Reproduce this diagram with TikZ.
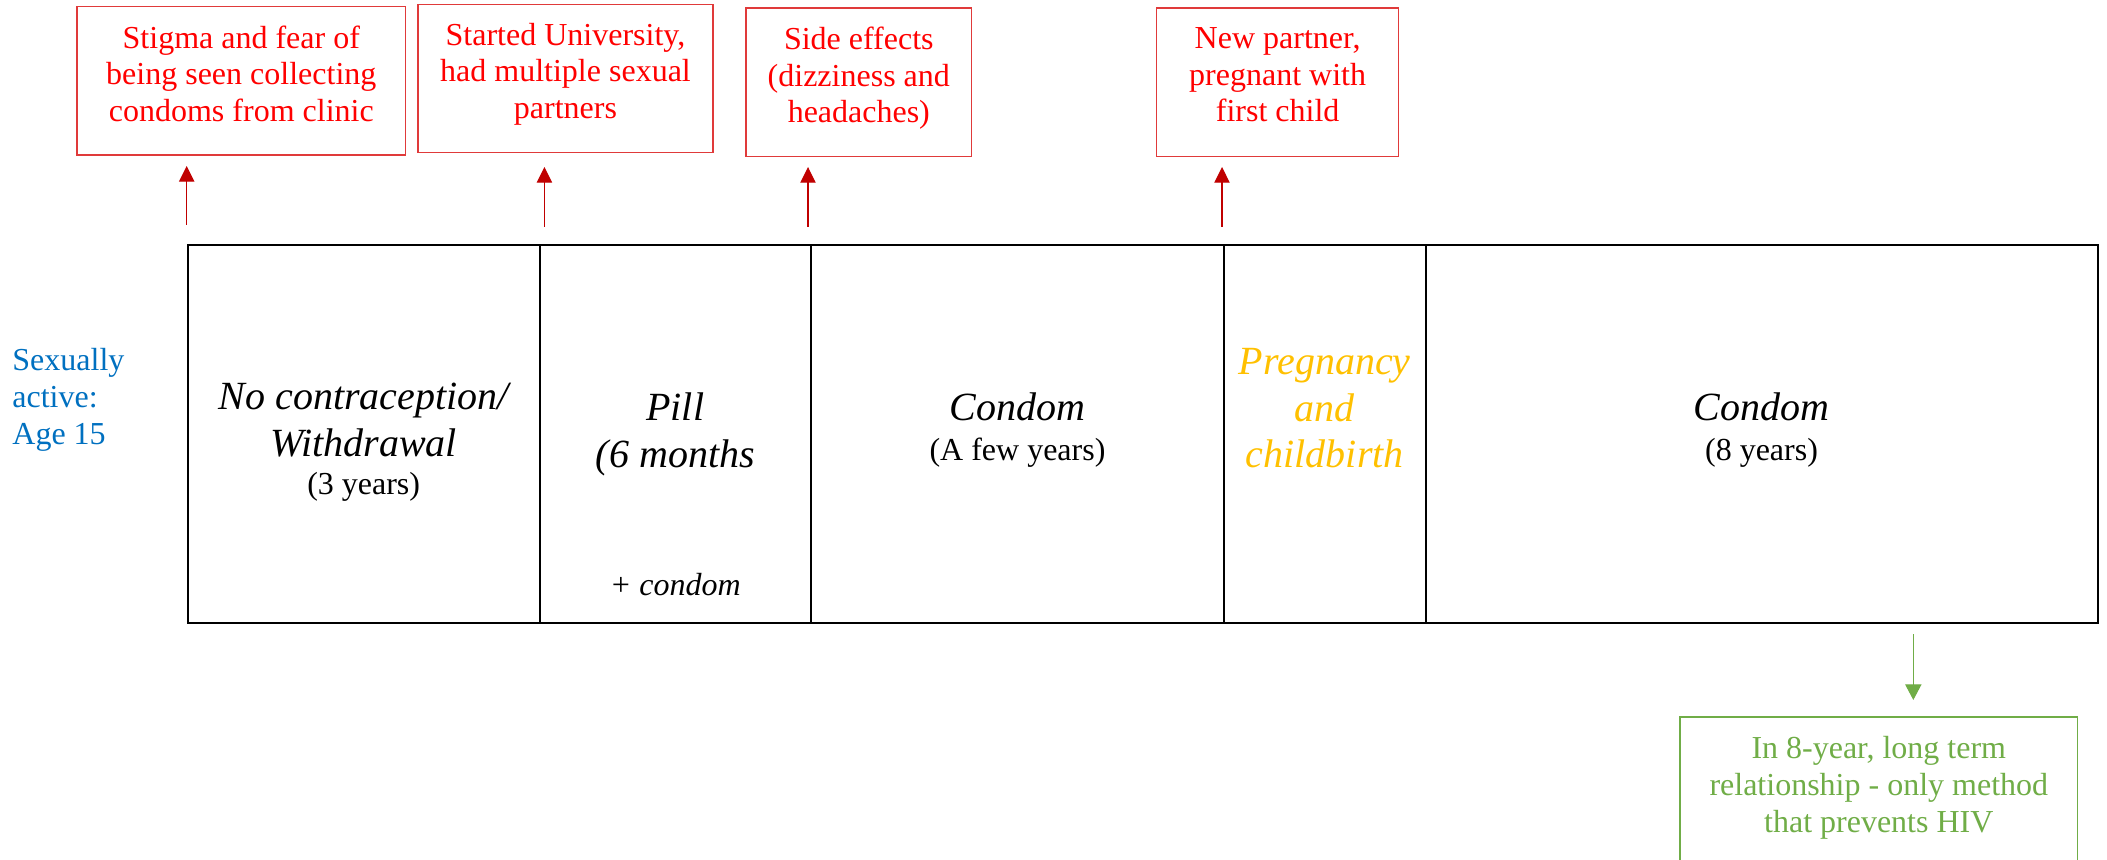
\documentclass[tikz,border=0pt]{standalone}
\usepackage{fontspec}
\setmainfont{Liberation Serif}
\usetikzlibrary{arrows.meta}

\definecolor{notered}{HTML}{FF0000}
\definecolor{noteframe}{HTML}{E03A3A}
\definecolor{arrowred}{HTML}{C00000}
\definecolor{hivgreen}{HTML}{70AD47}
\definecolor{startblue}{HTML}{0070C0}
\definecolor{pregold}{HTML}{FFC000}

\newcommand{\smallsz}{\fontsize{16}{18.35}\selectfont}
\newcommand{\bigsz}{\fontsize{20}{23.35}\selectfont}

\tikzset{
  cellbox/.style={draw=black, line width=1pt, minimum height=188.85pt,
    inner sep=0pt, outer sep=0pt, anchor=north west},
  notebox/.style={draw=noteframe, line width=0.65pt, minimum height=74.2pt,
    inner sep=0pt, outer sep=0pt, anchor=north west},
  notetext/.style={text=notered, font=\smallsz, align=center, inner sep=0pt, anchor=north},
  celltext/.style={font=\bigsz\itshape, align=center, inner sep=0pt, anchor=north},
  redarrow/.style={draw=arrowred, line width=0.65pt,
    -{Triangle[width=7.65pt, length=7.85pt]}},
  greenarrow/.style={draw=hivgreen, line width=0.65pt,
    -{Triangle[width=8.15pt, length=7.85pt]}},
}

\begin{document}
\begin{tikzpicture}[x=0.5pt, y=-0.5pt]
\clip (0,0) rectangle (2107,860);

% age at first sex
\node[text=startblue, font=\smallsz, align=left, inner sep=0pt, anchor=north west]
  (start) at (12,348.2) {Sexually\\active:\\Age 15};

% timeline cells
\node[cellbox, minimum width=175.75pt] (c1) at (188,245) {};
\node[cellbox, minimum width=135.75pt] (c2) at (c1.north east) {};
\node[cellbox, minimum width=206.5pt]  (c3) at (c2.north east) {};
\node[cellbox, minimum width=100.8pt]  (c4) at (c3.north east) {};
\node[cellbox, minimum width=335.95pt] (c5) at (c4.north east) {};

\node[celltext] (c1t) at (363.7,382.7)
  {No contraception/\\Withdrawal\\[-4.2pt]{\upshape\smallsz (3 years)}};
\node[celltext] (c2t) at (675.3,392.7) {Pill\\(6 months};
\node[font=\smallsz\itshape, inner sep=0pt, anchor=base] (c2b) at (675.3,595.7) {+ condom};
\node[celltext] (c3t) at (1017.5,392.7) {Condom\\[-3.35pt]{\upshape\smallsz (A few years)}};
\node[celltext, text=pregold] (c4t) at (1324.8,347.9) {Pregnancy\\and\\childbirth};
\node[celltext] (c5t) at (1761.5,392.7) {Condom\\[-3.35pt]{\upshape\smallsz (8 years)}};

% reasons for switching
\node[notebox, minimum width=164.25pt] (b1) at (77,6.7) {};
\node[notebox, minimum width=147.5pt]  (b2) at (418,4.3) {};
\node[notebox, minimum width=112.8pt]  (b3) at (746,8) {};
\node[notebox, minimum width=121.05pt] (b4) at (1156.5,8) {};

\node[notetext] (b1t) at (241.3,25.2) {Stigma and fear of\\being seen collecting\\condoms from clinic};
\node[notetext] (b2t) at (565.5,22.5) {Started University,\\had multiple sexual\\partners};
\node[notetext] (b3t) at (858.8,26.5) {Side effects\\(dizziness and\\headaches)};
\node[notetext] (b4t) at (1277.6,27.2) {New partner,\\pregnant with\\first child};

\coordinate (a1s) at (186.7,225);   \coordinate (a1e) at (186.7,166);
\coordinate (a2s) at (544.4,226.7); \coordinate (a2e) at (544.4,167);
\coordinate (a3s) at (808,226.7);   \coordinate (a3e) at (808,167);
\coordinate (a4s) at (1222,226.7);  \coordinate (a4e) at (1222,167);
\draw[redarrow] (a1s) -- (a1e);
\draw[redarrow] (a2s) -- (a2e);
\draw[redarrow] (a3s) -- (a3e);
\draw[redarrow] (a4s) -- (a4e);

% reason for staying with condoms
\node[draw=hivgreen, line width=0.65pt, minimum width=198.85pt, minimum height=100pt,
  inner sep=0pt, outer sep=0pt, anchor=north west] (g) at (1680,717) {};
\node[text=hivgreen, font=\smallsz, align=center, inner sep=0pt, anchor=north]
  (gt) at (1878.8,736.2) {In 8-year, long term\\relationship - only method\\that prevents HIV};
\coordinate (gs) at (1913.3,634);
\coordinate (ge) at (1913.3,700);
\draw[greenarrow] (gs) -- (ge);
\end{tikzpicture}
\end{document}
